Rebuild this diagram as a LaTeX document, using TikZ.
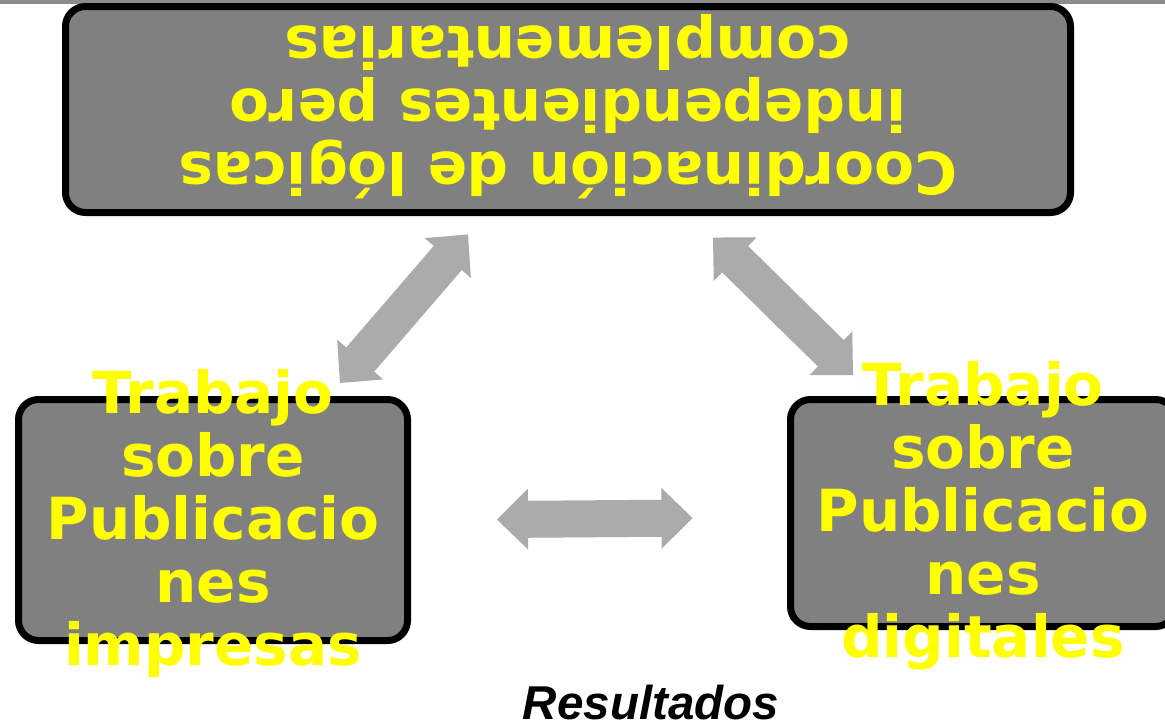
\documentclass[tikz,border=0pt]{standalone}
\usepackage{fontspec}
\setmainfont{DejaVu Sans}
\newfontfamily\resfont{Liberation Sans}
\usetikzlibrary{calc}
\definecolor{boxgray}{HTML}{808080}
\definecolor{arrowgray}{HTML}{ABABAB}
\definecolor{bargray}{HTML}{8C8C8C}
\definecolor{ylw}{HTML}{FFFF00}
\newcommand\blockarrow[2]{%
  \fill[arrowgray] (#1)
    -- ($(#1)!31pt!(#2)!30.5pt!90:(#2)$)
    -- ($(#1)!31pt!(#2)!18.5pt!90:(#2)$)
    -- ($(#2)!31pt!(#1)!18.5pt!-90:(#1)$)
    -- ($(#2)!31pt!(#1)!30.5pt!-90:(#1)$)
    -- (#2)
    -- ($(#2)!31pt!(#1)!30.5pt!90:(#1)$)
    -- ($(#2)!31pt!(#1)!18.5pt!90:(#1)$)
    -- ($(#1)!31pt!(#2)!18.5pt!-90:(#2)$)
    -- ($(#1)!31pt!(#2)!30.5pt!-90:(#2)$)
    -- cycle;}
\tikzset{
  box/.style={draw=black, line width=7pt, fill=boxgray, rounded corners=20pt, inner sep=0pt},
  label/.style={text=ylw, align=center, font=\fontsize{58}{63}\selectfont\bfseries, inner sep=0pt},
  res/.style={font=\resfont\fontsize{47.5}{50}\selectfont\bfseries\itshape, text=black, inner sep=0pt}
}
\begin{document}
\begin{tikzpicture}[x=1pt,y=-1pt]
\useasboundingbox (0,0) rectangle (1165,724);
\fill[bargray] (0,0) rectangle (1165,4);
\node[box, minimum width=1005pt, minimum height=206pt] (top) at (568,109.5) {};
\node[box, minimum width=389pt, minimum height=241pt] (left) at (213,520) {};
\node[box, minimum width=385pt, minimum height=227pt] (right) at (983,513) {};
\node[label, rotate=180] (toptext) at (568,107) {Coordinación de lógicas\\independientes pero\\complementarias};
\node[label] (lefttext) at (213,523) {Trabajo\\sobre\\Publicacio\\nes\\impresas};
\node[label] (righttext) at (983,516) {Trabajo\\sobre\\Publicacio\\nes\\digitales};
\coordinate (a1s) at (340,383);
\coordinate (a1e) at (468,234.5);
\coordinate (a2s) at (713,237.5);
\coordinate (a2e) at (853,375);
\coordinate (a3s) at (497,519.5);
\coordinate (a3e) at (692.5,518);
\blockarrow{a1s}{a1e}
\blockarrow{a2s}{a2e}
\blockarrow{a3s}{a3e}
\node[res, anchor=base] (res) at (651,719) {Resultados};
\end{tikzpicture}
\end{document}
